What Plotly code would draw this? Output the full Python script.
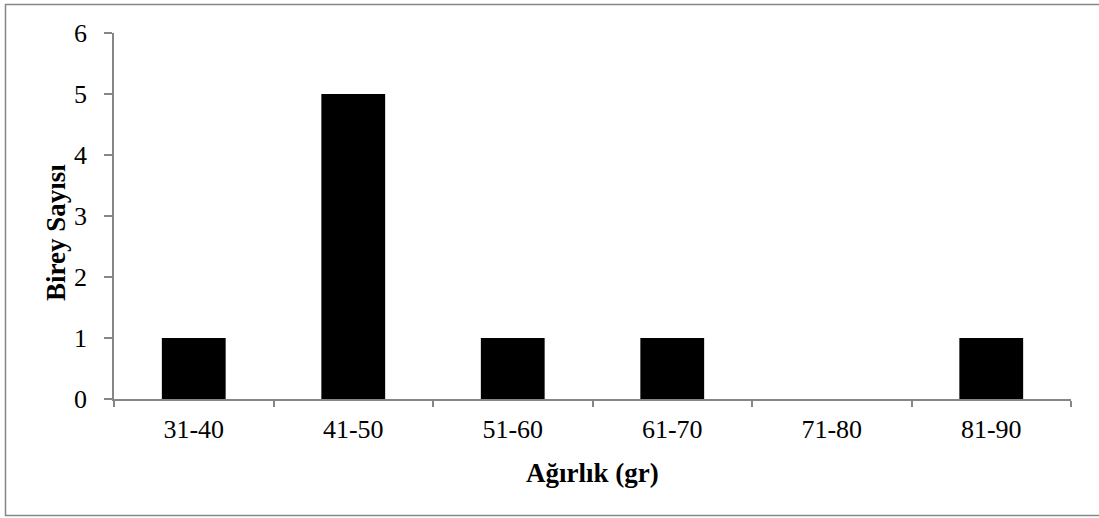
import plotly.graph_objects as go

categories = ["31-40", "41-50", "51-60", "61-70", "71-80", "81-90"]
counts = [1, 5, 1, 1, 0, 1]
y_ticks = [0, 1, 2, 3, 4, 5, 6]
x_title = "Ağırlık (gr)"
y_title = "Birey Sayısı"

FONT = "Liberation Serif, Times New Roman, serif"
AX = "#868686"

L, R, T, B = 114, 28, 33, 119
W, H = 1099, 518
pw, ph = W - L - R, H - T - B

def px2x(px):
    return (px - L) / pw

def px2y(py):
    return (H - B - py) / ph

fig = go.Figure(go.Bar(x=categories, y=counts, marker=dict(color="black", line=dict(width=0)),
                       width=0.4))

fig.update_layout(
    width=W, height=H,
    margin=dict(l=L, r=R, t=T, b=B),
    plot_bgcolor="white", paper_bgcolor="white",
    font=dict(family=FONT, color="black", size=26),
    showlegend=False,
    xaxis=dict(type="category", showline=True, linecolor=AX, linewidth=1.5,
               ticks="outside", tickson="boundaries", ticklen=6, tickcolor=AX, tickwidth=1.5,
               showgrid=False, tickfont=dict(size=26), ticklabelstandoff=6),
    yaxis=dict(range=[0, 6], tickvals=y_ticks, showline=True, linecolor=AX, linewidth=1.5,
               ticks="outside", ticklen=8, tickcolor=AX, tickwidth=1.5,
               showgrid=False, zeroline=False, tickfont=dict(size=26), ticklabelstandoff=12),
    shapes=[dict(type="rect", xref="paper", yref="paper",
                 x0=px2x(5.5), x1=px2x(1105), y0=px2y(515.5), y1=px2y(4.5),
                 line=dict(color=AX, width=1.5), layer="below")],
    annotations=[
        dict(text="<b>%s</b>" % x_title, xref="paper", yref="paper", x=px2x(592.5), y=px2y(473),
             showarrow=False, xanchor="center", yanchor="middle", font=dict(size=27)),
        dict(text="<b>%s</b>" % y_title, xref="paper", yref="paper", x=px2x(56), y=px2y(233),
             showarrow=False, xanchor="center", yanchor="middle", textangle=-90, font=dict(size=27)),
    ],
)

fig.write_html("out.html", config={"displayModeBar": False},
               post_script="document.body.style.margin='0';document.body.style.overflow='hidden';")
